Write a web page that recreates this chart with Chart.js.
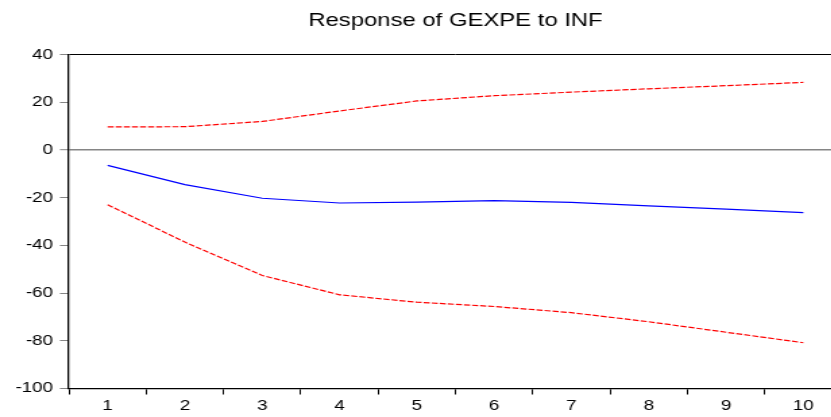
<!DOCTYPE html>
<html>
<head>
<meta charset="utf-8">
<title>Response of GEXPE to INF</title>
<script src="https://cdn.jsdelivr.net/npm/chart.js@4.4.1/dist/chart.umd.min.js"></script>
<style>
    html, body { margin: 0; padding: 0; background: #fff; overflow: hidden; }
</style>
</head>
<body>
<!-- the picture is stretched sideways, so the canvas is drawn narrow and widened by css -->
<canvas id="irf" width="624" height="417" style="width: 842px; height: 417px;"></canvas>
<script>
// Dados
const periods = ['1', '2', '3', '4', '5', '6', '7', '8', '9', '10'];
const response = [-6.4, -14.5, -20.2, -22.2, -21.8, -21.2, -21.9, -23.4, -24.8, -26.2];
const upperBand = [9.7, 9.8, 12.0, 16.4, 20.6, 22.8, 24.3, 25.7, 27.0, 28.4];
const lowerBand = [-22.9, -38.6, -52.6, -60.7, -63.8, -65.6, -68.2, -72.0, -76.4, -80.8];
const yTicks = [40, 20, 0, -20, -40, -60, -80, -100];

const chartTitle = 'Response of GEXPE to INF';
const FONT = 'Liberation Sans, Arial, sans-serif';

// título centrado sobre a área do gráfico
const titlePlugin = {
    id: 'centeredTitle',
    afterDraw(chart) {
        const ctx = chart.ctx;
        const area = chart.chartArea;
        ctx.save();
        ctx.font = '17.7px ' + FONT;
        ctx.fillStyle = '#000';
        ctx.textAlign = 'center';
        ctx.textBaseline = 'middle';
        ctx.fillText(chartTitle, (area.left + area.right) / 2, 21.3);
        ctx.restore();
    }
};

const ctx = document.getElementById('irf');

const chart = new Chart(ctx, {
    type: 'line',
    data: {
        labels: periods,
        datasets: [
            {
                label: 'Response',
                data: response,
                borderColor: 'rgb(0, 0, 255)',
                borderWidth: 1.2,
                pointRadius: 0,
                tension: 0,
                fill: false
            },
            {
                label: '+2 S.E.',
                data: upperBand,
                borderColor: 'rgb(255, 0, 0)',
                borderWidth: 1.2,
                borderDash: [4.5, 1.5],
                pointRadius: 0,
                tension: 0,
                fill: false
            },
            {
                label: '-2 S.E.',
                data: lowerBand,
                borderColor: 'rgb(255, 0, 0)',
                borderWidth: 1.2,
                borderDash: [4.5, 1.5],
                pointRadius: 0,
                tension: 0,
                fill: false
            }
        ]
    },
    options: {
        responsive: false,
        animation: false,
        devicePixelRatio: 1,
        layout: {
            padding: { top: 54.7, left: 0, right: 0, bottom: 0 }
        },
        plugins: {
            legend: { display: false },
            title: { display: false },
            tooltip: { enabled: false }
        },
        scales: {
            x: {
                offset: true,
                grid: {
                    offset: true,
                    drawOnChartArea: false,
                    tickColor: '#000',
                    tickLength: 6,
                    tickWidth: 1
                },
                border: { color: '#000', width: 1.3 },
                ticks: {
                    color: '#000',
                    padding: 3.1,
                    maxRotation: 0,
                    font: { family: FONT, size: 14 }
                },
                afterFit: function(scale) {
                    scale.height = 28.5;
                }
            },
            y: {
                min: -100,
                max: 40,
                afterBuildTicks: function(scale) {
                    scale.ticks = yTicks.map(v => ({ value: v }));
                },
                grid: {
                    color: function(c) {
                        if (c.tick && c.tick.value === 0) return '#858585';
                        if (c.tick && c.tick.value === 40) return '#000';
                        return 'rgba(0,0,0,0)';
                    },
                    lineWidth: function(c) {
                        return (c.tick && c.tick.value === 0) ? 1.4 : 1;
                    },
                    tickColor: '#858585',
                    tickLength: 6.7,
                    tickWidth: 1
                },
                border: { color: '#000', width: 1.3 },
                ticks: {
                    color: '#000',
                    padding: 5,
                    font: { family: FONT, size: 14 }
                },
                afterFit: function(scale) {
                    scale.width = 51.1;
                }
            }
        }
    },
    plugins: [titlePlugin]
});
</script>
</body>
</html>
